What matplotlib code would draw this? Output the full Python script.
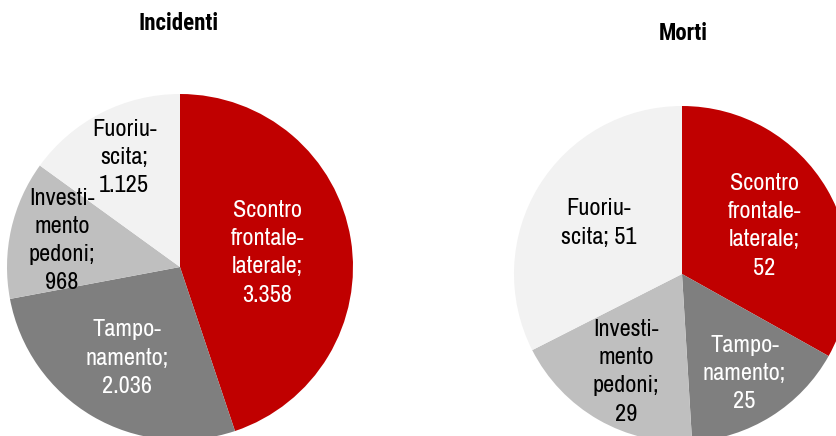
import numpy as np
import matplotlib
matplotlib.use('Agg')
import matplotlib.pyplot as plt

# data
incidenti = [3358, 2036, 968, 1125]
morti = [52, 25, 29, 51]
incidenti_labels = ['Scontro\nfrontale-\nlaterale;\n3.358', 'Tampo-\nnamento;\n2.036',
                    'Investi-\nmento\npedoni;\n968', 'Fuoriu-\nscita;\n1.125']
morti_labels = ['Scontro\nfrontale-\nlaterale;\n52', 'Tampo-\nnamento;\n25',
                'Investi-\nmento\npedoni;\n29', 'Fuoriu-\nscita; 51']

colors = ['#C00000', '#7F7F7F', '#BFBFBF', '#F2F2F2']
text_colors = ['white', 'white', 'black', 'black']

plt.rcParams['font.family'] = ['Archivo Narrow', 'Liberation Sans', 'DejaVu Sans']

W, H = 836, 436
fig = plt.figure(figsize=(W / 100, H / 100), dpi=100)


def draw_pie(cx, cy, r, values, labels, dists, title, tx, ty):
    ax = fig.add_axes([(cx - r) / W, (H - cy - r) / H, 2 * r / W, 2 * r / H])
    wedges, _ = ax.pie(values, colors=colors, startangle=90, counterclock=False,
                       radius=1, wedgeprops=dict(linewidth=0))
    ax.set_xlim(-1, 1)
    ax.set_ylim(-1, 1)
    ax.axis('off')
    for w, lab, d, tc in zip(wedges, labels, dists, text_colors):
        ang = np.deg2rad((w.theta1 + w.theta2) / 2)
        ax.text(d * np.cos(ang), d * np.sin(ang), lab, ha='center', va='center',
                color=tc, fontsize=17.5, linespacing=1.43)
    fig.text(tx / W, 1 - ty / H, title, ha='center', va='center',
             fontsize=16.5, fontweight='bold', family=['Roboto Condensed', 'Liberation Sans'])


draw_pie(180, 267, 173, incidenti, incidenti_labels, [0.51, 0.61, 0.70, 0.71],
         'Incidenti', 179, 24)
draw_pie(682, 274, 168, morti, morti_labels, [0.57, 0.70, 0.67, 0.58],
         'Morti', 683, 33)

fig.savefig('out.png', dpi=100)
